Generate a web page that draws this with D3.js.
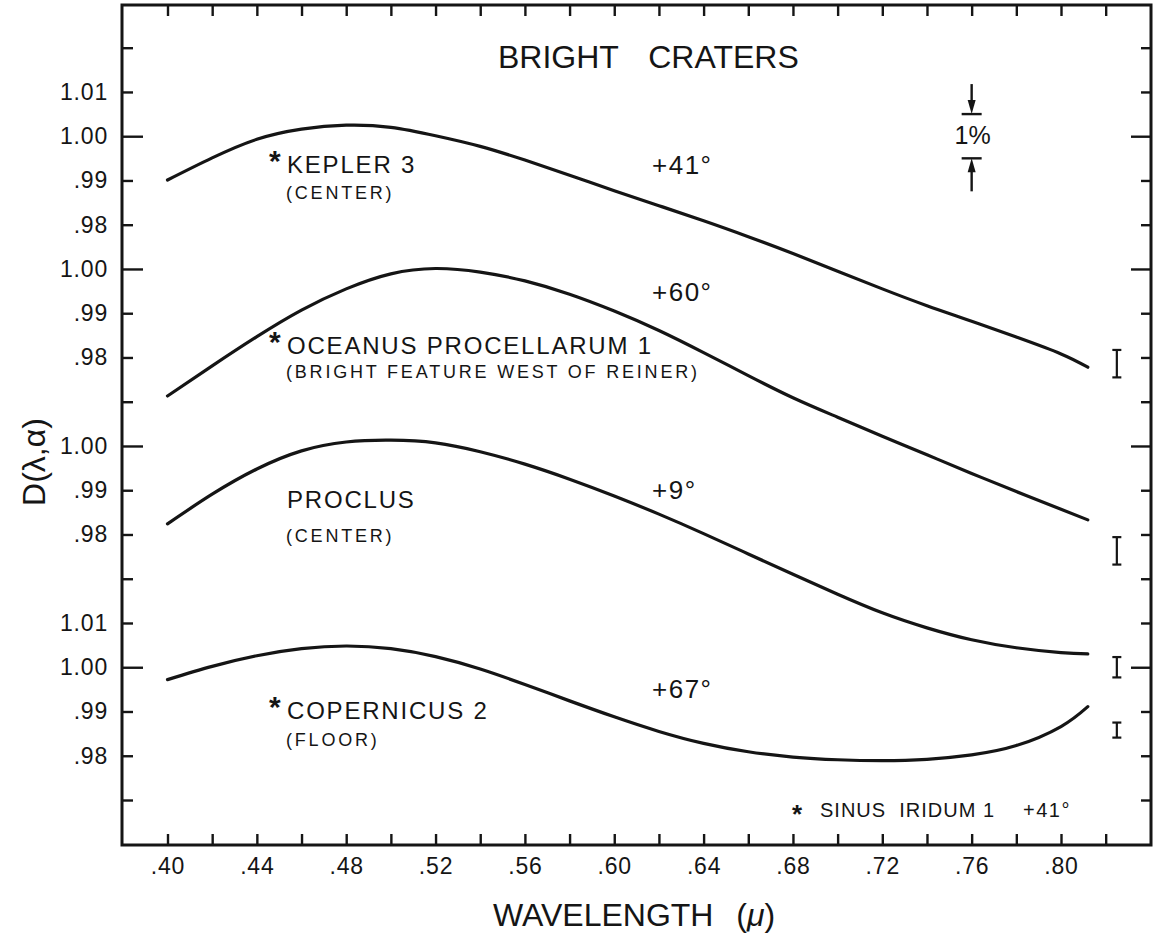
<!DOCTYPE html>
<html>
<head>
<meta charset="utf-8">
<script src="https://cdn.jsdelivr.net/npm/d3@7"></script>
<style>
  body { margin: 0; background: #ffffff; }
  svg text { font-family: "Liberation Sans", Arial, sans-serif; fill: #151515; }
</style>
</head>
<body>
<svg id="chart" width="1156" height="936"></svg>
<script>
// ---- data -------------------------------------------------------------
// wavelength samples in microns
const wavelengths = [0.40, 0.42, 0.44, 0.46, 0.48, 0.50, 0.52, 0.54, 0.56, 0.58, 0.60,
                     0.62, 0.64, 0.66, 0.68, 0.70, 0.72, 0.74, 0.76, 0.78, 0.80, 0.812];

// D(lambda, alpha) for each bright feature
const kepler3     = [0.9901, 0.9951, 0.9993, 1.0016, 1.0025, 1.0020, 1.0001, 0.9977, 0.9946, 0.9912, 0.9877,
                     0.9843, 0.9809, 0.9773, 0.9735, 0.9695, 0.9655, 0.9617, 0.9582, 0.9546, 0.9508, 0.9478];
const oceanus1    = [0.9713, 0.9781, 0.9847, 0.9907, 0.9955, 0.9989, 1.0001, 0.9993, 0.9973, 0.9943, 0.9905,
                     0.9861, 0.9811, 0.9759, 0.9709, 0.9665, 0.9622, 0.9580, 0.9538, 0.9497, 0.9457, 0.9433];
const proclus     = [0.9824, 0.9891, 0.9948, 0.9989, 1.0009, 1.0013, 1.0007, 0.9987, 0.9959, 0.9925, 0.9887,
                     0.9846, 0.9802, 0.9756, 0.9710, 0.9665, 0.9623, 0.9589, 0.9562, 0.9544, 0.9533, 0.9530];
const copernicus2 = [0.9972, 1.0002, 1.0026, 1.0042, 1.0048, 1.0042, 1.0024, 0.9996, 0.9961, 0.9924, 0.9888,
                     0.9855, 0.9828, 0.9809, 0.9797, 0.9791, 0.9789, 0.9792, 0.9802, 0.9823, 0.9866, 0.9911];

const curveNames  = ["KEPLER 3", "OCEANUS PROCELLARUM 1", "PROCLUS", "COPERNICUS 2"];
const curveNotes  = ["(CENTER)", "(BRIGHT FEATURE WEST OF REINER)", "(CENTER)", "(FLOOR)"];
const curveStar   = [true, true, false, true];
const phaseAngles = ["+41°", "+60°", "+9°", "+67°"];

// each curve sits on its own stacked D scale; the shift moves its 1.00 down the shared axis
const groupShift  = [0, -0.03, -0.07, -0.12];

// error bars at the long-wavelength end (centre and half-height, in D units of each curve)
const errWavelength = 0.825;
const errCenter     = [0.9486, 0.9363, 0.9500, 0.9858];
const errHalf       = [0.0031, 0.0031, 0.0023, 0.0017];

// the 1% scale marker
const pctWavelength = 0.76;
const pctTop        = 1.005;
const pctBottom     = 0.995;

// axis ticks
const xTickValues = [0.40, 0.42, 0.44, 0.46, 0.48, 0.50, 0.52, 0.54, 0.56, 0.58, 0.60,
                     0.62, 0.64, 0.66, 0.68, 0.70, 0.72, 0.74, 0.76, 0.78, 0.80, 0.82];
const xTickLabels = [".40", "", ".44", "", ".48", "", ".52", "", ".56", "", ".60",
                     "", ".64", "", ".68", "", ".72", "", ".76", "", ".80", ""];
const yTickValues = [1.02, 1.01, 1.00, 0.99, 0.98, 0.97, 0.96, 0.95, 0.94, 0.93, 0.92,
                     0.91, 0.90, 0.89, 0.88, 0.87, 0.86, 0.85];
const yTickLabels = ["", "1.01", "1.00", ".99", ".98", "1.00", ".99", ".98", "", "1.00", ".99",
                     ".98", "", "1.01", "1.00", ".99", ".98", ""];

// ---- layout -----------------------------------------------------------
const svg = d3.select("#chart");
const frame = { left: 122, top: 5, right: 1151, bottom: 845 };
const ink = "#151515";

const x = d3.scaleLinear().domain([0.40, 0.80]).range([167.5, 1061]);
const y = d3.scaleLinear().domain([1.02, 0.85]).range([47.7, 800]);

svg.append("rect").attr("width", 1156).attr("height", 936).attr("fill", "#fff");

// axes (ticks point into the plot)
function styleAxis(g) {
  g.select(".domain").remove();
  g.selectAll(".tick line").attr("stroke", ink).attr("stroke-width", 2.4);
  g.selectAll(".tick text").attr("fill", ink)
    .style("font-size", "23px").style("letter-spacing", "0.8px");
}
const isUnity = i => yTickLabels[i] === "1.00";

svg.append("g")
  .attr("transform", `translate(0,${frame.bottom})`)
  .call(d3.axisBottom(x).tickValues(xTickValues).tickFormat((d, i) => xTickLabels[i])
        .tickSizeInner(-11).tickSizeOuter(0).tickPadding(13))
  .call(styleAxis);

svg.append("g")
  .attr("transform", `translate(0,${frame.top})`)
  .call(d3.axisTop(x).tickValues(xTickValues).tickFormat("")
        .tickSizeInner(-11).tickSizeOuter(0))
  .call(styleAxis);

svg.append("g")
  .attr("transform", `translate(${frame.left},0)`)
  .call(d3.axisLeft(y).tickValues(yTickValues).tickFormat((d, i) => yTickLabels[i])
        .tickSizeInner(-11).tickSizeOuter(0).tickPadding(14))
  .call(styleAxis)
  .call(g => g.selectAll(".tick line").attr("x2", (d, i) => isUnity(i) ? 21 : 11));

svg.append("g")
  .attr("transform", `translate(${frame.right},0)`)
  .call(d3.axisRight(y).tickValues(yTickValues).tickFormat("")
        .tickSizeInner(-11).tickSizeOuter(0))
  .call(styleAxis)
  .call(g => g.selectAll(".tick line").attr("x2", (d, i) => isUnity(i) ? -20 : -10));

// frame
svg.append("rect")
  .attr("x", frame.left).attr("y", frame.top)
  .attr("width", frame.right - frame.left).attr("height", frame.bottom - frame.top)
  .attr("fill", "none").attr("stroke", ink).attr("stroke-width", 3);

// curves
const line = d3.line()
  .x(d => x(d[0]))
  .y(d => y(d[1]))
  .curve(d3.curveNatural);

[kepler3, oceanus1, proclus, copernicus2].forEach((vals, i) => {
  const pts = wavelengths.map((w, j) => [w, vals[j] + groupShift[i]]);
  svg.append("path").datum(pts)
    .attr("d", line)
    .attr("fill", "none")
    .attr("stroke", ink)
    .attr("stroke-width", 3.2)
    .attr("stroke-linecap", "round");
});

// error bars
errCenter.forEach((c, i) => {
  const ex = x(errWavelength);
  const y1 = y(c + errHalf[i] + groupShift[i]);
  const y2 = y(c - errHalf[i] + groupShift[i]);
  const g = svg.append("g").attr("stroke", ink).attr("stroke-width", 2.2);
  g.append("line").attr("x1", ex).attr("x2", ex).attr("y1", y1).attr("y2", y2);
  g.append("line").attr("x1", ex - 4.5).attr("x2", ex + 4.5).attr("y1", y1).attr("y2", y1);
  g.append("line").attr("x1", ex - 4.5).attr("x2", ex + 4.5).attr("y1", y2).attr("y2", y2);
});

// 1% scale marker
{
  const px = x(pctWavelength);
  const yt = y(pctTop), yb = y(pctBottom);
  const g = svg.append("g").attr("stroke", ink).attr("stroke-width", 2.4);
  g.append("line").attr("x1", px - 10).attr("x2", px + 10).attr("y1", yt).attr("y2", yt);
  g.append("line").attr("x1", px - 10).attr("x2", px + 10).attr("y1", yb).attr("y2", yb);
  g.append("line").attr("x1", px).attr("x2", px).attr("y1", yt - 30).attr("y2", yt - 10);
  g.append("line").attr("x1", px).attr("x2", px).attr("y1", yb + 10).attr("y2", yb + 33);
  svg.append("path").attr("fill", ink)
    .attr("d", `M${px},${yt} L${px - 4},${yt - 14} L${px + 4},${yt - 14} Z`);
  svg.append("path").attr("fill", ink)
    .attr("d", `M${px},${yb} L${px - 4},${yb + 14} L${px + 4},${yb + 14} Z`);
  svg.append("text").attr("x", px + 1).attr("y", (yt + yb) / 2 + 8)
    .attr("text-anchor", "middle").style("font-size", "25px").text("1%");
}

// curve labels
const nameBase  = [172.7, 353.5, 508, 719];
const noteBase  = [199, 378, 542, 746];
const angleBase = [173.5, 301, 499, 698];
const labelX = 287, angleX = 652;

curveNames.forEach((name, i) => {
  if (curveStar[i]) {
    svg.append("text").attr("x", 269).attr("y", nameBase[i] - 2)
      .style("font-size", "30px").style("font-weight", "bold").text("*");
  }
  svg.append("text").attr("x", labelX).attr("y", nameBase[i])
    .style("font-size", "24px").style("letter-spacing", "1.8px").text(name);
  svg.append("text").attr("x", labelX - 1).attr("y", noteBase[i])
    .style("font-size", "18px").style("letter-spacing", "2.8px").text(curveNotes[i]);
  svg.append("text").attr("x", angleX).attr("y", angleBase[i])
    .style("font-size", "26px").style("letter-spacing", "1.5px").text(phaseAngles[i]);
});

// Sinus Iridum note
svg.append("text").attr("x", 792).attr("y", 823).style("font-size", "26px")
  .style("font-weight", "bold").text("*");
svg.append("text").attr("x", 820).attr("y", 816.5)
  .style("font-size", "20px").style("letter-spacing", "1px")
  .style("white-space", "pre").text("SINUS  IRIDUM 1");
svg.append("text").attr("x", 1023).attr("y", 816.5)
  .style("font-size", "20px").style("letter-spacing", "1.5px").text("+41°");

// title
svg.append("text").attr("x", 498).attr("y", 68.3)
  .style("font-size", "32px").style("word-spacing", "21px").text("BRIGHT CRATERS");

// axis titles
svg.append("text").attr("x", 493).attr("y", 926)
  .style("font-size", "32px").style("word-spacing", "14px")
  .call(t => {
    t.append("tspan").text("WAVELENGTH (");
    t.append("tspan").style("font-style", "italic").text("μ");
    t.append("tspan").text(")");
  });

svg.append("text")
  .attr("transform", "translate(45,462) rotate(-90)")
  .attr("text-anchor", "middle")
  .style("font-size", "32px")
  .text("D(λ,α)");
</script>
</body>
</html>
